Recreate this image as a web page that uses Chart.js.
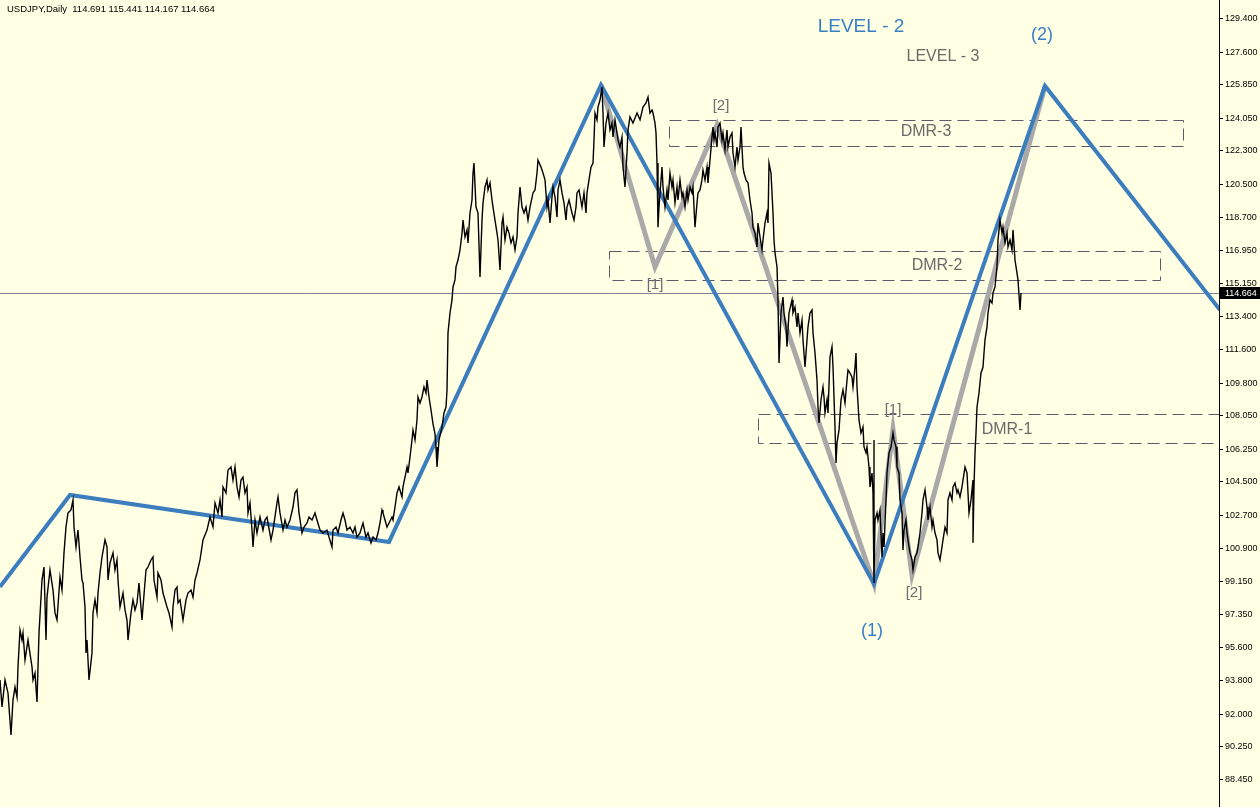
<!DOCTYPE html>
<html>
<head>
<meta charset="utf-8">
<title>USDJPY Daily</title>
<script src="https://cdn.jsdelivr.net/npm/chart.js@4.4.1/dist/chart.umd.min.js"></script>
<style>
  html, body { margin: 0; padding: 0; background: #ffffe4; overflow: hidden; }
  #wrap { width: 1260px; height: 807px; }
</style>
</head>
<body>
<div id="wrap"><canvas id="chart" width="1260" height="807"></canvas></div>
<script>
// price axis
const priceMin = 86.997;
const priceMax = 130.422;
const priceTicks = [129.4, 127.6, 125.85, 124.05, 122.3, 120.5, 118.7, 116.95, 115.15, 113.4, 111.6, 109.8,
  108.05, 106.25, 104.5, 102.7, 100.9, 99.15, 97.35, 95.6, 93.8, 92.0, 90.25, 88.45];
const lastPrice = 114.664;
const title = 'USDJPY,Daily  114.691 115.441 114.167 114.664';

// daily closes (bar index -> price)
const closeBars = [
  0, 2, 5, 8, 11, 13, 15, 17, 18, 20,
  22, 23, 25, 28, 32, 33, 35, 37, 39, 42,
  44, 46, 47, 50, 53, 55, 57, 60, 62, 64,
  66, 68, 71, 73, 74, 76, 78, 80, 82, 83,
  85, 86, 87, 89, 92, 93, 95, 97, 98, 100,
  102, 105, 107, 108, 110, 113, 115, 117, 118, 120,
  123, 125, 127, 128, 131, 133, 135, 137, 139, 142,
  143, 146, 148, 151, 153, 154, 157, 158, 161, 163,
  167, 169, 172, 173, 175, 177, 178, 180, 183, 186,
  188, 191, 193, 195, 197, 200, 203, 207, 210, 213,
  215, 218, 220, 222, 223, 226, 228, 231, 233, 235,
  237, 239, 241, 243, 245, 247, 248, 250, 252, 253,
  255, 257, 260, 263, 265, 267, 268, 271, 273, 277,
  278, 280, 283, 285, 287, 290, 293, 295, 297, 299,
  302, 304, 307, 309, 312, 315, 317, 320, 323, 327,
  329, 332, 333, 336, 338, 341, 343, 345, 347, 350,
  353, 355, 357, 360, 363, 366, 368, 371, 373, 376,
  378, 380, 382, 383, 385, 387, 389, 392, 393, 395,
  397, 399, 402, 403, 405, 407, 408, 410, 412, 413,
  415, 417, 418, 420, 422, 424, 426, 427, 429, 431,
  433, 435, 436, 437, 439, 442, 444, 446, 447, 448,
  450, 452, 453, 455, 456, 458, 460, 462, 463, 465,
  467, 468, 470, 472, 473, 474, 476, 478, 480, 482,
  483, 485, 487, 488, 490, 492, 493, 495, 497, 498,
  500, 502, 503, 505, 507, 509, 511, 513, 515, 517,
  518, 520, 522, 524, 526, 528, 530, 533, 535, 537,
  538, 541, 543, 545, 547, 548, 550, 552, 553, 555,
  557, 558, 560, 562, 564, 566, 567, 569, 572, 574,
  576, 577, 579, 582, 584, 586, 587, 589, 591, 593,
  594, 595, 597, 598, 600, 602, 603, 604, 606, 608,
  610, 612, 613, 615, 617, 618, 620, 622, 623, 625,
  627, 628, 630, 633, 637, 640, 643, 646, 648, 650,
  652, 653, 655, 656, 657, 658, 659, 661, 662, 663,
  665, 667, 668, 670, 672, 673, 675, 677, 678, 680,
  682, 683, 685, 687, 688, 690, 692, 693, 695, 697,
  698, 700, 702, 703, 705, 707, 708, 710, 712, 713,
  714, 715, 717, 718, 720, 722, 723, 725, 727, 728,
  730, 732, 733, 735, 737, 738, 740, 741, 743, 744,
  746, 748, 750, 752, 753, 755, 757, 758, 760, 762,
  763, 765, 767, 768, 769, 771, 773, 774, 775, 777,
  778, 779, 781, 783, 784, 786, 787, 789, 792, 793,
  795, 797, 798, 800, 802, 803, 805, 807, 808, 810,
  812, 813, 815, 817, 818, 819, 821, 823, 824, 825,
  827, 828, 830, 832, 833, 835, 836, 837, 839, 841,
  843, 845, 847, 848, 850, 852, 853, 855, 856, 857,
  859, 861, 863, 864, 866, 867, 869, 870, 872, 873,
  874, 874, 875, 877, 878, 880, 882, 883, 884, 886,
  887, 889, 891, 893, 894, 896, 897, 899, 900, 902,
  903, 904, 906, 907, 909, 910, 912, 913, 915, 917,
  918, 920, 922, 923, 925, 927, 928, 930, 932, 933,
  935, 937, 938, 940, 942, 943, 945, 947, 948, 950,
  952, 953, 955, 957, 958, 960, 962, 963, 965, 967,
  968, 969, 971, 973, 973, 974, 975, 976, 977, 979,
  981, 983, 984, 985, 987, 988, 990, 992, 993, 995,
  997, 998, 1000, 1002, 1003, 1005, 1007, 1008, 1010, 1012,
  1013, 1015, 1017, 1018, 1020, 1021
];
const closePrices = [
  93.83, 92.38, 93.83, 93.13, 90.87, 92.76, 93.45, 92.91, 94.53, 96.52,
  95.98, 96.36, 94.91, 95.98, 94.53, 93.83, 94.21, 92.65, 96.36, 99.21,
  99.91, 95.98, 98.29, 99.75, 98.67, 97.44, 97.06, 99.37, 98.67, 100.67,
  102.07, 102.82, 102.98, 103.52, 102.06, 100.99, 101.90, 100.45, 99.21, 99.05,
  97.76, 95.29, 95.98, 93.83, 95.29, 97.44, 98.14, 97.44, 98.51, 99.59,
  100.45, 101.37, 100.99, 99.21, 100.13, 100.67, 99.75, 100.29, 99.21, 97.76,
  98.51, 97.60, 97.06, 95.98, 97.44, 98.14, 97.60, 97.98, 99.05, 97.06,
  97.76, 99.75, 99.91, 100.29, 100.45, 99.21, 98.29, 99.59, 99.21, 98.51,
  97.76, 97.44, 96.68, 97.76, 98.67, 98.83, 97.98, 98.14, 97.06, 98.14,
  98.51, 98.67, 98.29, 99.21, 99.59, 100.29, 101.37, 101.90, 102.60, 102.07,
  103.36, 102.82, 103.52, 102.60, 104.22, 103.90, 105.13, 105.29, 104.59, 105.29,
  104.22, 103.68, 104.59, 104.75, 103.90, 104.22, 102.82, 103.36, 101.90, 100.99,
  102.44, 101.74, 102.60, 101.90, 102.44, 102.60, 102.28, 101.37, 101.90, 103.36,
  103.68, 102.82, 101.90, 102.44, 102.06, 102.44, 103.14, 103.90, 104.06, 102.82,
  101.74, 102.06, 102.28, 102.60, 102.44, 102.82, 102.44, 101.90, 101.74, 101.90,
  101.52, 100.99, 101.90, 102.06, 101.74, 102.44, 102.82, 102.44, 101.90, 102.06,
  101.74, 102.06, 101.52, 101.74, 102.28, 101.52, 101.74, 101.21, 101.52, 101.37,
  101.74, 102.28, 102.98, 102.82, 102.44, 102.06, 102.28, 102.60, 102.44, 103.14,
  103.90, 104.22, 103.68, 104.22, 104.75, 105.29, 104.97, 105.83, 106.75, 107.28,
  106.75, 107.82, 109.06, 108.74, 109.06, 109.60, 109.28, 109.97, 109.06, 108.36,
  107.61, 107.07, 106.37, 105.29, 106.75, 107.44, 108.20, 108.52, 109.44, 112.51,
  113.58, 114.28, 114.98, 115.36, 116.06, 116.43, 116.97, 117.88, 118.58, 117.67,
  118.05, 117.35, 118.96, 119.66, 121.11, 121.65, 119.28, 118.96, 115.52, 118.58,
  119.50, 120.36, 120.74, 120.20, 120.58, 119.66, 119.28, 118.58, 117.88, 117.51,
  115.89, 118.42, 118.74, 117.51, 118.20, 117.88, 117.35, 117.67, 116.97, 117.67,
  118.96, 120.36, 119.28, 118.96, 119.28, 118.58, 119.28, 120.04, 120.20, 121.11,
  121.81, 121.43, 121.11, 120.74, 119.28, 119.66, 118.42, 119.82, 120.36, 119.82,
  118.74, 120.20, 120.74, 120.04, 119.50, 118.58, 119.28, 119.66, 118.96, 118.58,
  119.28, 120.04, 120.20, 119.28, 120.04, 118.96, 120.04, 120.74, 121.43, 121.65,
  122.89, 124.34, 123.97, 124.66, 125.04, 125.74, 124.34, 122.51, 123.80, 124.34,
  123.43, 123.80, 123.05, 123.97, 123.27, 122.89, 122.51, 123.05, 121.43, 120.36,
  122.19, 123.43, 124.13, 123.80, 124.34, 123.97, 124.66, 124.88, 125.20, 124.34,
  124.50, 124.34, 123.80, 123.27, 121.65, 118.20, 119.28, 120.74, 121.43, 120.36,
  119.28, 120.20, 119.66, 121.11, 120.36, 120.74, 119.50, 120.36, 119.66, 120.74,
  119.82, 120.04, 119.28, 120.20, 119.66, 120.36, 120.04, 120.36, 118.20, 119.50,
  120.04, 120.20, 120.74, 121.27, 120.74, 121.43, 120.58, 121.81, 123.05, 123.59,
  122.89, 123.27, 122.51, 123.59, 123.80, 122.89, 123.27, 122.35, 123.43, 122.51,
  123.05, 123.27, 122.19, 121.43, 122.51, 121.81, 122.51, 123.59, 121.43, 121.11,
  120.74, 120.58, 119.66, 118.96, 118.20, 117.88, 117.13, 118.42, 117.67, 116.97,
  117.51, 118.42, 118.96, 118.42, 121.65, 121.11, 118.96, 117.51, 116.81, 116.06,
  114.28, 110.89, 113.58, 114.44, 113.58, 112.83, 111.76, 113.58, 114.28, 113.58,
  113.90, 112.83, 113.58, 112.51, 113.20, 112.13, 110.67, 112.13, 112.83, 113.58,
  113.74, 112.51, 111.43, 109.97, 108.52, 107.66, 108.90, 109.60, 109.06, 108.20,
  108.90, 108.20, 111.21, 111.76, 110.67, 107.44, 105.51, 106.59, 107.28, 108.90,
  109.44, 108.74, 109.97, 110.51, 110.35, 110.13, 109.60, 110.67, 111.43, 109.60,
  107.82, 107.12, 107.44, 106.37, 106.05, 106.37, 105.29, 104.22, 104.97, 103.90,
  106.75, 99.05, 102.44, 102.82, 102.44, 102.98, 100.45, 101.74, 100.99, 103.52,
  104.97, 106.05, 106.37, 107.12, 106.75, 106.37, 105.29, 104.97, 103.52, 102.82,
  100.83, 101.90, 102.44, 101.74, 100.99, 100.67, 100.29, 99.75, 100.45, 100.67,
  100.99, 101.74, 102.82, 103.52, 104.06, 103.14, 102.44, 103.14, 102.06, 102.44,
  101.74, 101.37, 100.67, 100.29, 100.99, 101.37, 102.06, 101.74, 103.52, 103.90,
  103.52, 104.22, 104.43, 103.90, 104.06, 103.68, 104.22, 104.59, 105.29, 104.97,
  103.90, 102.82, 103.52, 104.59, 101.21, 104.22, 106.05, 107.12, 108.52, 109.28,
  110.35, 110.67, 111.43, 112.13, 112.83, 113.58, 114.28, 114.12, 114.66, 114.98,
  116.06, 117.51, 118.58, 117.88, 118.20, 117.35, 117.88, 117.13, 117.51, 116.97,
  118.05, 116.43, 115.73, 115.36, 113.74, 114.66
];

// zigzag pivots
const level2Bars = [0, 70, 389, 601, 874, 1045, 1220];
const level2Prices = [98.84, 103.79, 101.26, 125.85, 99.00, 125.80, 113.74];
const level3Bars = [601, 655, 717, 874, 893, 912, 1045];
const level3Prices = [125.85, 116.05, 123.70, 99.00, 107.33, 99.48, 125.80];

// DMR zones
const dmrNames = ['DMR-3', 'DMR-2', 'DMR-1'];
const dmrFromBar = [669, 609, 758];
const dmrToBar = [1183, 1160, 1250];
const dmrHigh = [123.97, 116.92, 108.15];
const dmrLow = [122.57, 115.36, 106.58];

// text labels: [text, bar, price, kind]
const notes = [
  ['LEVEL - 2', 861, 128.97, 'big'],
  ['LEVEL - 3', 943, 127.36, 'grey'],
  ['(2)', 1042, 128.54, 'wave'],
  ['(1)', 872, 96.47, 'wave'],
  ['[2]', 721, 124.72, 'sub'],
  ['[1]', 655, 115.09, 'sub'],
  ['[1]', 893, 108.36, 'sub'],
  ['[2]', 914, 98.51, 'sub'],
  ['DMR-3', 926, 123.32, 'grey'],
  ['DMR-2', 937, 116.11, 'grey'],
  ['DMR-1', 1007, 107.28, 'grey']
];

const BG = '#ffffe4';
const BLUE = '#3c7dbe';
const GREY_LINE = '#a9a9a9';
const BOX = '#5f5866';
const FONT = '"Liberation Sans", Arial, sans-serif';

const toPoints = (xs, ys) => xs.map((x, i) => ({ x, y: ys[i] }));

const noteStyle = {
  big: { size: 19, color: '#3a80c4' },
  wave: { size: 18, color: '#3a80c4' },
  sub: { size: 15, color: '#6f6a72' },
  grey: { size: 16, color: '#6a6a6a' }
};

const overlay = {
  id: 'overlay',
  beforeDraw(chart) {
    const ctx = chart.ctx;
    ctx.save();
    ctx.fillStyle = BG;
    ctx.fillRect(0, 0, chart.width, chart.height);
    ctx.restore();
  },
  beforeDatasetsDraw(chart) {
    const { ctx, chartArea } = chart;
    const xs = chart.scales.x, ys = chart.scales.y;
    ctx.save();
    ctx.beginPath();
    ctx.rect(chartArea.left, chartArea.top, chartArea.right - chartArea.left, chartArea.bottom - chartArea.top);
    ctx.clip();

    // last price line
    const py = Math.round(ys.getPixelForValue(lastPrice)) + 0.5;
    ctx.strokeStyle = '#7b8794';
    ctx.lineWidth = 1;
    ctx.beginPath();
    ctx.moveTo(chartArea.left, py);
    ctx.lineTo(chartArea.right, py);
    ctx.stroke();

    // DMR boxes
    ctx.strokeStyle = BOX;
    ctx.setLineDash([12, 6]);
    dmrNames.forEach((n, i) => {
      const x1 = Math.round(xs.getPixelForValue(dmrFromBar[i])) + 0.5;
      const x2 = Math.round(xs.getPixelForValue(dmrToBar[i])) + 0.5;
      const y1 = Math.round(ys.getPixelForValue(dmrHigh[i])) + 0.5;
      const y2 = Math.round(ys.getPixelForValue(dmrLow[i])) + 0.5;
      ctx.strokeRect(x1, y1, x2 - x1, y2 - y1);
    });
    ctx.restore();
  },
  afterDatasetsDraw(chart) {
    const ctx = chart.ctx;
    const xs = chart.scales.x, ys = chart.scales.y;
    ctx.save();
    ctx.textAlign = 'center';
    ctx.textBaseline = 'middle';
    notes.forEach(([text, bar, price, kind]) => {
      const st = noteStyle[kind];
      ctx.font = st.size + 'px ' + FONT;
      ctx.fillStyle = st.color;
      ctx.fillText(text, xs.getPixelForValue(bar), ys.getPixelForValue(price));
    });
    ctx.restore();
  },
  afterDraw(chart) {
    const { ctx, chartArea } = chart;
    const ys = chart.scales.y;
    ctx.save();
    // last price tag on the axis
    const py = Math.round(ys.getPixelForValue(lastPrice));
    ctx.fillStyle = '#000';
    ctx.fillRect(chartArea.right + 1, py - 6, chart.width - chartArea.right - 1, 12);
    ctx.fillStyle = '#fff';
    ctx.font = '9px ' + FONT;
    ctx.textAlign = 'left';
    ctx.textBaseline = 'middle';
    ctx.fillText(lastPrice.toFixed(3), chartArea.right + 6, py + 0.5);

    // symbol header
    ctx.fillStyle = '#000';
    ctx.font = '9.5px ' + FONT;
    ctx.fillText(title, 7, 9);
    ctx.restore();
  }
};

new Chart(document.getElementById('chart'), {
  type: 'line',
  data: {
    datasets: [
      {
        label: 'USDJPY',
        data: toPoints(closeBars, closePrices),
        borderColor: '#000',
        borderWidth: 1.4,
        pointRadius: 0,
        tension: 0
      },
      {
        label: 'Level 2',
        data: toPoints(level2Bars, level2Prices),
        borderColor: BLUE,
        borderWidth: 4,
        pointRadius: 0,
        tension: 0
      },
      {
        label: 'Level 3',
        data: toPoints(level3Bars, level3Prices),
        borderColor: GREY_LINE,
        borderWidth: 5,
        pointRadius: 0,
        tension: 0
      }
    ]
  },
  options: {
    responsive: false,
    devicePixelRatio: 1,
    animation: false,
    layout: { padding: 0 },
    plugins: { legend: { display: false }, tooltip: { enabled: false } },
    scales: {
      x: { type: 'linear', min: 0, max: 1219, display: false },
      y: {
        position: 'right',
        min: priceMin,
        max: priceMax,
        afterBuildTicks: (s) => { s.ticks = priceTicks.map(v => ({ value: v })); },
        afterFit: (s) => { s.width = 41; s.paddingTop = 0; s.paddingBottom = 0; },
        grid: { drawOnChartArea: false, drawTicks: true, tickLength: 4, tickColor: '#000', color: '#000' },
        border: { display: true, color: '#000', width: 1 },
        ticks: {
          autoSkip: false,
          color: '#000',
          padding: 2,
          font: { family: 'Liberation Sans', size: 9 },
          callback: (v) => Number(v).toFixed(3)
        }
      }
    }
  },
  plugins: [overlay]
});
</script>
</body>
</html>
